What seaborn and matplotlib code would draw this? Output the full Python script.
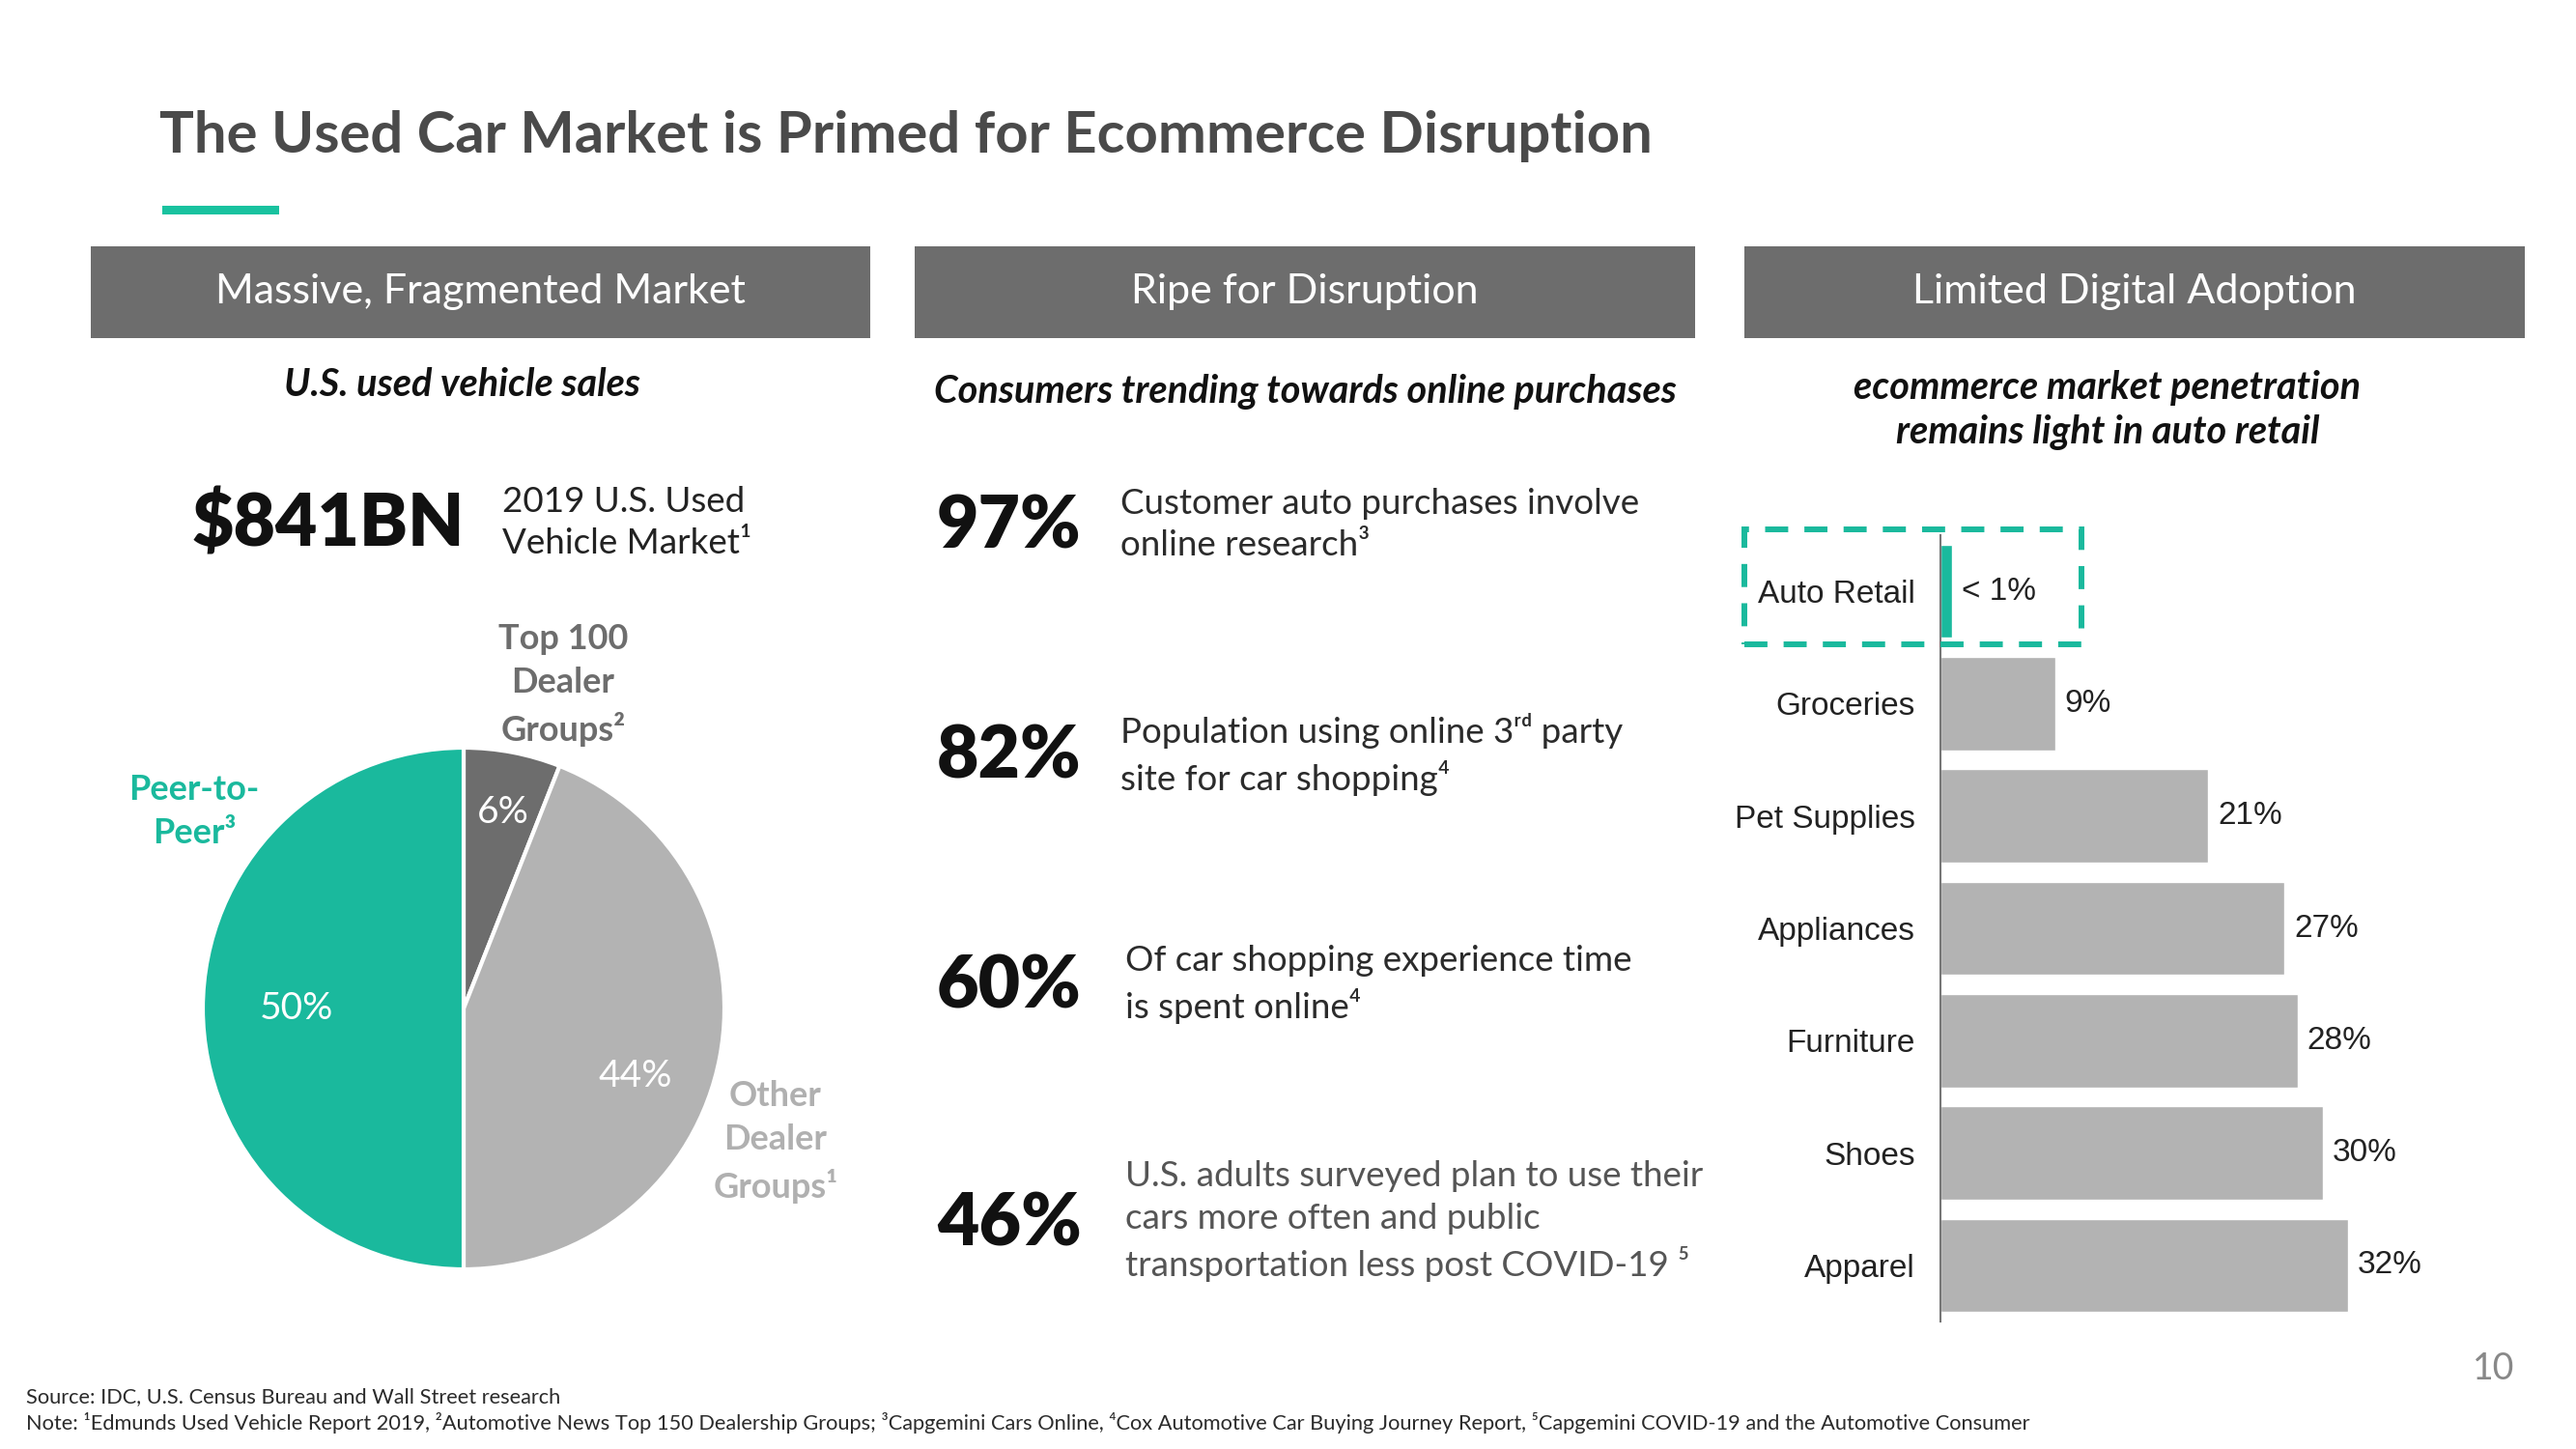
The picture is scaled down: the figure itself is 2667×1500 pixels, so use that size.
import matplotlib
matplotlib.use("Agg")
import matplotlib.pyplot as plt
import matplotlib.patches as patches
import seaborn as sns
import pandas as pd

W, H = 2667, 1500

# pie: U.S. used vehicle sales split
pie_labels = ["Top 100 Dealer Groups", "Other Dealer Groups", "Peer-to-Peer"]
pie_shares = [6, 44, 50]
pie_pct_text = ["6%", "44%", "50%"]
pie_colors = ["#6d6d6d", "#b3b3b3", "#1ab99d"]

# middle column stats
stat_values = ["97%", "82%", "60%", "46%"]
stat_texts = [
    "Customer auto purchases involve\nonline research³",
    "Population using online 3ʳᵈ party\nsite for car shopping⁴",
    "Of car shopping experience time\nis spent online⁴",
    "U.S. adults surveyed plan to use their\ncars more often and public\ntransportation less post COVID-19 ⁵",
]

# ecommerce penetration bars
categories = ["Auto Retail", "Groceries", "Pet Supplies", "Appliances",
              "Furniture", "Shoes", "Apparel"]
penetration = [0.9, 9, 21, 27, 28, 30, 32]
bar_labels = ["< 1%", "9%", "21%", "27%", "28%", "30%", "32%"]

TEAL = "#1ab99d"
HEADER_GRAY = "#6d6d6d"

sns.set_theme(style="white")
plt.rcParams["font.family"] = ["Lato", "DejaVu Sans"]

fig = plt.figure(figsize=(W / 100, H / 100), dpi=100)
fig.patch.set_facecolor("white")


def px_text(x, y, s, **kw):
    kw.setdefault("va", "center")
    return fig.text(x / W, 1 - y / H, s, **kw)


def px_rect(x0, y0, x1, y1, **kw):
    r = patches.Rectangle((x0 / W, 1 - y1 / H), (x1 - x0) / W, (y1 - y0) / H,
                          transform=fig.transFigure, **kw)
    fig.add_artist(r)
    return r


# title + accent line
px_text(165, 141, "The Used Car Market is Primed for Ecommerce Disruption",
        fontsize=43, fontweight="bold", color="#4a4a4a", ha="left")
px_rect(168, 213, 289, 222, color="#19c29f", lw=0)

# section headers
headers = ["Massive, Fragmented Market", "Ripe for Disruption", "Limited Digital Adoption"]
header_x = [(94, 901), (947, 1755), (1806, 2614)]
for (x0, x1), h in zip(header_x, headers):
    px_rect(x0, 255, x1, 350, color=HEADER_GRAY, lw=0)
    px_text((x0 + x1) / 2, 302, h, fontsize=31, color="white", ha="center")

# sub headings
sub_kw = dict(fontsize=28.5, fontweight="bold", fontstyle="italic", color="#111111", ha="center")
px_text(478, 398, "U.S. used vehicle sales", **sub_kw)
px_text(1351, 405, "Consumers trending towards online purchases", **sub_kw)
px_text(2182, 425, "ecommerce market penetration\nremains light in auto retail",
        linespacing=1.3, **sub_kw)

# left column: market size
px_text(199, 543, "$841BN", fontsize=54, fontweight="heavy", color="#111111", ha="left")
px_text(520, 541, "2019 U.S. Used\nVehicle Market¹", fontsize=26.5, color="#222222",
        ha="left", linespacing=1.4)

# pie
ax_pie = fig.add_axes([210 / W, 1 - 1314 / H, 540 / W, 540 / H])
ax_pie.pie(pie_shares, colors=pie_colors, startangle=90, counterclock=False,
           wedgeprops=dict(edgecolor="white", linewidth=3))
ax_pie.set_xlim(-1, 1)
ax_pie.set_ylim(-1, 1)
ax_pie.axis("off")
pct_pos = [(0.15, 0.75), (0.66, -0.26), (-0.64, 0.0)]
for (px, py), t in zip(pct_pos, pie_pct_text):
    ax_pie.text(px, py, t, fontsize=28, color="white", ha="center", va="center")

lab_kw = dict(fontsize=26, fontweight="bold", ha="center", linespacing=1.45)
px_text(583, 709, "Top 100\nDealer\nGroups²", color="#6d6d6d", **lab_kw)
px_text(201, 840, "Peer-to-\nPeer³", color=TEAL, **lab_kw)
px_text(803, 1182, "Other\nDealer\nGroups¹", color="#b0b0b0", **lab_kw)

# middle column stats
stat_y = [546, 784, 1022, 1267]
text_x = [1160, 1160, 1165, 1165]
text_colors = ["#2b2b2b", "#2b2b2b", "#2b2b2b", "#555555"]
for v, t, y, tx, c in zip(stat_values, stat_texts, stat_y, text_x, text_colors):
    px_text(970, y, v, fontsize=54, fontweight="heavy", color="#111111", ha="left")
    px_text(tx, y - 3, t, fontsize=26.5, color=c, ha="left", linespacing=1.4)

# right column bar chart
ax = fig.add_axes([2009 / W, 1 - 1368 / H, 528 / W, 814 / H])
df = pd.DataFrame({"category": categories, "share": penetration})
bar_palette = {c: (TEAL if c == "Auto Retail" else "#b3b3b3") for c in categories}
sns.barplot(data=df, x="share", y="category", hue="category", palette=bar_palette,
            orient="h", width=0.83, legend=False, saturation=1, ax=ax)
for cont, lab in zip(ax.containers, bar_labels):
    ax.bar_label(cont, labels=[lab], padding=7, fontsize=24,
                 family=["Liberation Sans"], color="#222222")
ax.set_xlim(0, 40)
ax.set_ylim(6.5, -0.5)
ax.set_xlabel("")
ax.set_ylabel("")
ax.set_xticks([])
ax.tick_params(axis="y", length=0, pad=19)
for lbl in ax.get_yticklabels():
    lbl.set_fontfamily(["Liberation Sans"])
    lbl.set_fontsize(24)
    lbl.set_color("#222222")
for s in ["top", "right", "bottom"]:
    ax.spines[s].set_visible(False)
ax.spines["left"].set_color("#777777")
ax.spines["left"].set_linewidth(1.5)
ax.set_facecolor("none")

# dashed highlight around auto retail
px_rect(1806, 548, 2155, 667, fill=False, edgecolor=TEAL, lw=4.3,
        linestyle=(0, (4, 2.8)))

# footer
foot_kw = dict(fontsize=15.7, color="#2b2b2b", ha="left")
px_text(27, 1446, "Source: IDC, U.S. Census Bureau and Wall Street research", **foot_kw)
px_text(27, 1473, "Note: ¹Edmunds Used Vehicle Report 2019, ²Automotive News Top 150 Dealership Groups; "
        "³Capgemini Cars Online, ⁴Cox Automotive Car Buying Journey Report, "
        "⁵Capgemini COVID-19 and the Automotive Consumer", **foot_kw)
px_text(2582, 1417, "10", fontsize=27, color="#888888", ha="center")

fig.savefig("out.png", dpi=100, facecolor="white")
